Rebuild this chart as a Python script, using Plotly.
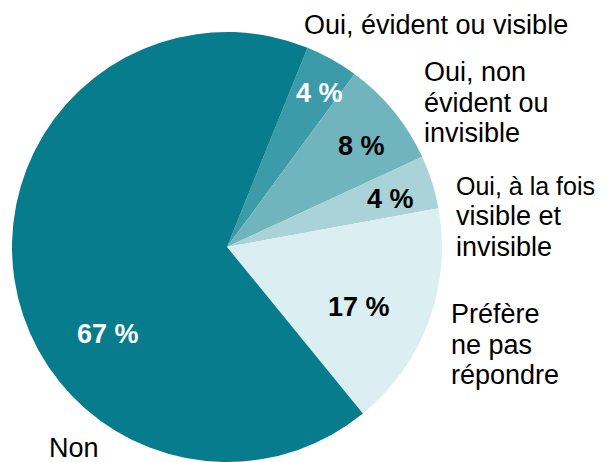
import plotly.graph_objects as go

# slices, clockwise from the top
labels = ["Oui, évident ou visible", "Oui, non évident ou invisible",
          "Oui, à la fois visible et invisible", "Préfère ne pas répondre", "Non"]
values = [4, 8, 4, 17, 67]
colors = ["#3b9ba8", "#70b5be", "#a9d3d8", "#dbeef1", "#077c8c"]
pct_colors = ["white", "black", "black", "black", "white"]

# outside labels, broken into lines as in the source
label_lines = [
    ["Oui, évident ou visible"],
    ["Oui, non", "évident ou", "invisible"],
    ["Oui, à la fois", "visible et", "invisible"],
    ["Préfère", "ne pas", "répondre"],
    ["Non"],
]

# page has an 8px body margin, so the figure is a bit smaller than the window
OFF = 8
W, H = 605 - OFF, 462 - OFF
cx, cy, r = 227 - OFF, 247 - OFF, 215


def px(x, y):
    return (x - OFF) / W, 1 - (y - OFF) / H


fig = go.Figure(
    go.Pie(
        labels=labels,
        values=values,
        sort=False,
        direction="clockwise",
        rotation=22,
        marker=dict(colors=colors, line=dict(width=0)),
        textinfo="none",
        hoverinfo="label+percent",
        showlegend=False,
        domain=dict(x=[(cx - r) / W, (cx + r) / W],
                    y=[(H - cy - r) / H, (H - cy + r) / H]),
    )
)

# percentage labels inside the slices (page pixels, centre)
pct_pos = [(319, 93), (361, 146), (390, 199), (359, 307), (108, 334)]
for v, c, (x, y) in zip(values, pct_colors, pct_pos):
    ax, ay = px(x, y)
    fig.add_annotation(
        x=ax, y=ay, xref="paper", yref="paper", text=f"<b>{v} %</b>",
        showarrow=False, xanchor="center", yanchor="middle",
        font=dict(family="Liberation Sans", size=27, color=c),
    )

# outside labels: left edge and first line centre, 30.5px line step
label_pos = [(302, 25), (422, 72), (454, 186), (449, 314), (47, 448)]
for lines, (x, y) in zip(label_lines, label_pos):
    for i, line in enumerate(lines):
        ax, ay = px(x, y + i * 30.5)
        # the long first line of the third label has to stop before the edge
        size = 25 if line == "Oui, à la fois" else 27
        fig.add_annotation(
            x=ax, y=ay, xref="paper", yref="paper", text=line,
            showarrow=False, xanchor="left", yanchor="middle",
            font=dict(family="Liberation Sans", size=size, color="black"),
        )

fig.update_layout(
    width=W, height=H,
    margin=dict(l=0, r=0, t=0, b=0),
    paper_bgcolor="white",
    font=dict(family="Liberation Sans"),
)

fig.write_html("out.html")
